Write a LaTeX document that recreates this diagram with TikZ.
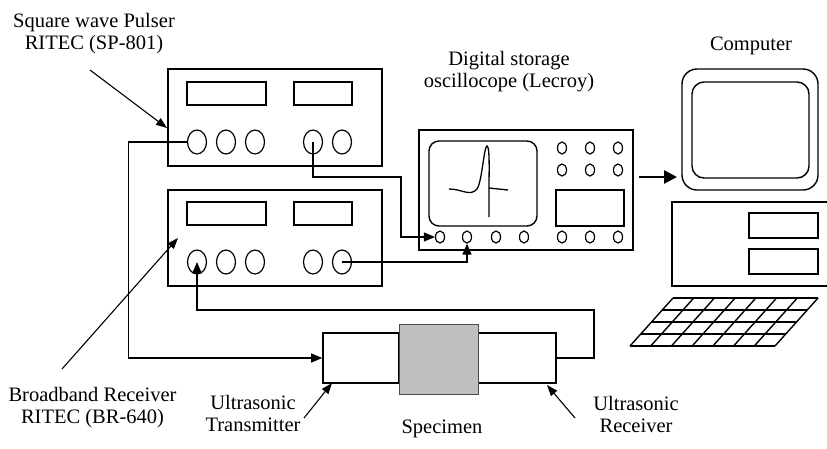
\documentclass[tikz,border=0pt]{standalone}
\usepackage{fontspec}
\setmainfont{Liberation Serif}
\usetikzlibrary{arrows.meta,shapes.geometric}
\tikzset{
    Panel/.style = {draw,line width=1.6pt,inner sep=0pt},
    Screen/.style = {draw,line width=1.4pt},
    Knob/.style = {draw,ellipse,line width=1.2pt,inner sep=0pt,
        minimum width=19pt,minimum height=24pt},
    Dot/.style = {draw,ellipse,line width=1.2pt,inner sep=0pt,
        minimum width=9pt,minimum height=12pt},
    Wire/.style = {line width=1.1pt,-{Triangle[length=11pt,width=9pt]}},
    Pointer/.style = {line width=1.1pt,-{Triangle[length=11pt,width=8pt]}},
    Feed/.style = {line width=2.6pt,-{Triangle[length=13pt,width=13pt]}},
    Label/.style = {align=center,inner sep=0pt,font=\fontsize{20.5}{22}\selectfont}
}
\begin{document}
\begin{tikzpicture}[x=1pt,y=-1pt]
    \useasboundingbox (0,0) rectangle (827,448);
    % pulser and receiver units
    \node[Panel,minimum width=214pt,minimum height=97pt] (pulser) at (275,117.5) {};
    \node[Panel,minimum width=214pt,minimum height=96pt] (receiver) at (275,238) {};
    \foreach \y in {82,202}
        {\draw[Screen] (187,\y) rectangle ++(79,23);
        \draw[Screen] (294,\y) rectangle ++(58,23);}
    \foreach \x [count=\i] in {197,226,255,313,342}
        {\node[Knob] (p\i) at (\x,142) {};
        \node[Knob] (r\i) at (\x,262) {};}
    % oscilloscope
    \node[Panel,minimum width=214pt,minimum height=120pt] (scope) at (526,190) {};
    \draw[Screen,rounded corners=10pt] (429,141) rectangle (537,226);
    \draw[Screen] (556,190) rectangle (624,226);
    \foreach \x in {562,590,618}
        {\node[Dot] at (\x,148) {};
        \node[Dot] at (\x,170) {};}
    \foreach \x [count=\i] in {440,467,496,524,562,590,618}
        {\node[Dot] (o\i) at (\x,237) {};}
    \draw[line width=1.3pt] (449,189) .. controls (462,189) and (470,197) .. (477,189)
        .. controls (482,182) and (484,146) .. (487,146)
        .. controls (490,146) and (489,175) .. (489,187) -- (489,217);
    \draw[line width=1.3pt] (489,188) -- (508,190);
    % computer
    \draw[Screen,rounded corners=15pt] (682,69) rectangle (818,190);
    \draw[Screen,rounded corners=12pt] (692,82) rectangle (809,178);
    \draw[Panel] (827,202) -- (672,202) -- (672,286) -- (827,286);
    \draw[Screen] (749,213) rectangle (818,238);
    \draw[Screen] (749,249) rectangle (818,274);
    \foreach \i in {0,...,7}
        {\draw[line width=1.4pt] (630+\i*145/7,346) -- (673+\i*145/7,298);}
    \foreach \j in {0,...,4}
        {\draw[line width=1.4pt] (630+\j*43/4,346-\j*12) -- ++(145,0);}
    % transducers and specimen
    \node[Panel,minimum width=76pt,minimum height=50pt] (tx) at (361,358) {};
    \node[Panel,minimum width=78pt,minimum height=50pt] (rx) at (517,358) {};
    \node[draw=black!70,fill=gray!50,line width=1pt,minimum width=79pt,
        minimum height=70pt] (specimen) at (438.5,359) {};
    % cables
    \draw[Wire] (p1.west) -- ++(-58.5,0) |- (tx.west);
    \draw[Wire] (p4.center) |- (401,177) |- (o1.west);
    \draw[Wire] (r5.center) -| (o2.south);
    \draw[Wire] (rx.east) -| (594,310) -| (r1.center);
    \coordinate (scope out) at (639,177);
    \coordinate (pc in) at (677,177);
    \draw[Feed] (scope out) -- (pc in);
    % labels
    \node[Label] (pulser label) at (94,34) {Square wave Pulser\\RITEC (SP-801)};
    \node[Label] (scope label) at (509,72) {Digital storage\\oscillocope (Lecroy)};
    \node[Label,anchor=base] (pc label) at (751,50) {Computer};
    \node[Label] (receiver label) at (92.5,408) {Broadband Receiver\\RITEC (BR-640)};
    \node[Label] (tx label) at (253,413) {Ultrasonic\\Transmitter};
    \node[Label,anchor=base] (specimen label) at (442,433) {Specimen};
    \node[Label] (rx label) at (636,414) {Ultrasonic\\Receiver};
    \draw[Pointer] (90,70) -- (167,128);
    \draw[Pointer] (62,369) -- (178,238);
    \draw[Pointer] (304,418) -- (332,383);
    \draw[Pointer] (575,418) -- (547,385);
\end{tikzpicture}
\end{document}
